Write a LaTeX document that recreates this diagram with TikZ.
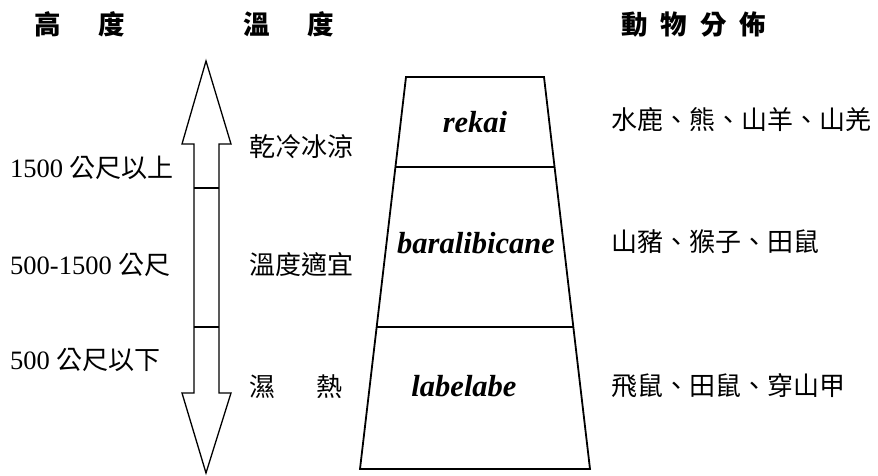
\documentclass[tikz,border=0pt]{standalone}
\usepackage{fontspec}
\setmainfont{Liberation Serif}
\newfontfamily\cjk{Noto Sans CJK TC}
\begin{document}
\begin{tikzpicture}[x=1pt,y=-1pt,
  head/.style={inner sep=0pt,anchor=west,font=\cjk\bfseries\fontsize{26.5}{30}\selectfont},
  body/.style={inner sep=0pt,anchor=west,font=\fontsize{26.5}{30}\selectfont},
  cbody/.style={inner sep=0pt,anchor=west,font=\cjk\fontsize{26}{30}\selectfont},
  zone/.style={inner sep=0pt,font=\bfseries\itshape\fontsize{30.5}{34}\selectfont},
  outline/.style={draw=black,line width=1.3pt,line join=miter},
  tower/.style={draw=black,line width=1.8pt}]
\useasboundingbox (0,0) rectangle (878,475);
% headings
\node[head] (hh) at (34,24) {高\hspace{38pt}度};
\node[head] (ht) at (243,24) {溫\hspace{38pt}度};
\node[head] (ha) at (621,24) {動\hspace{13pt}物\hspace{13pt}分\hspace{13pt}佈};
% double arrow
\coordinate (tt) at (206,61);
\coordinate (tb) at (206,473);
\draw[outline] (tt) -- (231,144) -- (219,144) -- (219,393) -- (231,393) -- (tb)
  -- (182,393) -- (194,393) -- (194,144) -- (182,144) -- cycle;
\coordinate (c1l) at (194,188); \coordinate (c1r) at (219,188);
\coordinate (c2l) at (194,327); \coordinate (c2r) at (219,327);
\draw[outline] (c1l) -- (c1r);
\draw[outline] (c2l) -- (c2r);
% altitude labels
\node[body] (a1) at (10,168) {1500 {\cjk\fontsize{26}{30}\selectfont 公尺以上}};
\node[body] (a2) at (10,265) {500-1500 {\cjk\fontsize{26}{30}\selectfont 公尺}};
\node[body] (a3) at (10,360) {500 {\cjk\fontsize{26}{30}\selectfont 公尺以下}};
% temperature labels
\node[cbody] (t1) at (249,147) {乾冷冰涼};
\node[cbody] (t2) at (249,265) {溫度適宜};
\node[cbody] (t3) at (249,387) {濕\hspace{41pt}熱};
% tower
\coordinate (p1) at (406,77);
\coordinate (p2) at (544,77);
\coordinate (p3) at (590,469);
\coordinate (p4) at (360,469);
\draw[tower] (p1) -- (p2) -- (p3) -- (p4) -- cycle;
\coordinate (l1) at (395.4,167); \coordinate (r1) at (554.6,167);
\coordinate (l2) at (376.7,327); \coordinate (r2) at (573.3,327);
\draw[tower] (l1) -- (r1);
\draw[tower] (l2) -- (r2);
\node[zone] (z1) at (475,122) {rekai};
\node[zone] (z2) at (476,243) {baralibicane};
\node[zone] (z3) at (464,386) {labelabe};
% animals
\node[cbody] (d1) at (611,120) {水鹿、熊、山羊、山羌};
\node[cbody] (d2) at (611,242) {山豬、猴子、田鼠};
\node[cbody] (d3) at (611,386) {飛鼠、田鼠、穿山甲};
\end{tikzpicture}
\end{document}
